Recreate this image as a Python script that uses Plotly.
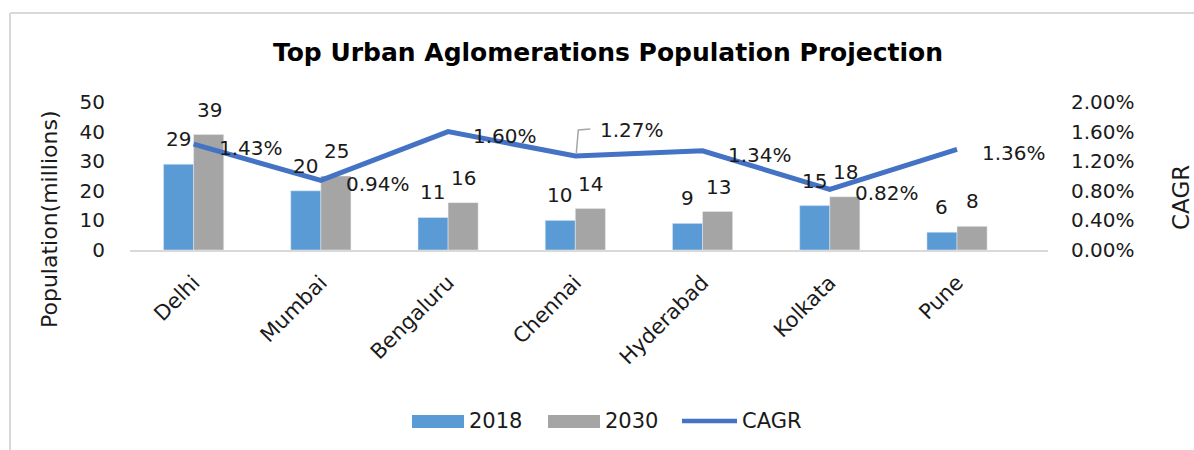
import plotly.graph_objects as go

cities = ["Delhi", "Mumbai", "Bengaluru", "Chennai", "Hyderabad", "Kolkata", "Pune"]
pop_2018 = [29, 20, 11, 10, 9, 15, 6]
pop_2030 = [39, 25, 16, 14, 13, 18, 8]
cagr = [0.0143, 0.0094, 0.0160, 0.0127, 0.0134, 0.0082, 0.0136]
left_ticks = [0, 10, 20, 30, 40, 50]
right_ticks = [0, 0.004, 0.008, 0.012, 0.016, 0.02]

W, H = 1194, 450
ML, MR, MT, MB = 130, 146, 102, 200
PW, PH = W - ML - MR, H - MT - MB

FONT = "DejaVu Sans"
TXT = "#1a1a1a"
BLUE, GRAY, LINE = "#5B9BD5", "#A5A5A5", "#4472C4"


def px(xp):
    return (xp - ML) / PW


def py(yp):
    return (H - MB - yp) / PH


fig = go.Figure()
fig.add_trace(go.Bar(x=cities, y=pop_2018, name="2018", marker_color=BLUE))
fig.add_trace(go.Bar(x=cities, y=pop_2030, name="2030", marker_color=GRAY))
fig.add_trace(go.Scatter(x=cities, y=cagr, name="CAGR", yaxis="y2", mode="lines",
                         line=dict(color=LINE, width=5), cliponaxis=False))

ann = []
# bar labels
for c, a, b in zip(cities, pop_2018, pop_2030):
    for v, sh in ((a, -15.5), (b, 15.5)):
        ann.append(dict(x=c, y=v, xref="x", yref="y", text=str(v), showarrow=False,
                        xshift=sh, yshift=11, yanchor="bottom", xanchor="center",
                        font=dict(family=FONT, size=20, color=TXT)))
# line labels
for c, v in zip(cities, cagr):
    ys = -4
    if c == "Chennai":
        ys = 26
    ann.append(dict(x=c, y=v, xref="x", yref="y2", text=f"{v*100:.2f}%", showarrow=False,
                    xshift=23, yshift=ys, xanchor="left", yanchor="middle",
                    font=dict(family=FONT, size=20, color=TXT)))
# axis titles
ann.append(dict(x=px(49), y=py(219), xref="paper", yref="paper", text="Population(millions)",
                textangle=-90, showarrow=False, xanchor="center", yanchor="middle",
                font=dict(family=FONT, size=22, color=TXT)))
ann.append(dict(x=px(1181), y=py(198), xref="paper", yref="paper", text="CAGR",
                textangle=-90, showarrow=False, xanchor="center", yanchor="middle",
                font=dict(family=FONT, size=23, color=TXT)))

shapes = []
# leader line for Chennai label
shapes.append(dict(type="path", xref="x", yref="y2", xsizemode="pixel", ysizemode="pixel",
                   xanchor="Chennai", yanchor=cagr[3], path="M 1 3 L 3 26 L 15 27",
                   line=dict(color="#A6A6A6", width=1.5)))
# chart frame (left and top edges)
shapes.append(dict(type="line", xref="paper", yref="paper", x0=px(10), x1=px(10), y0=py(13), y1=py(452),
                   line=dict(color="#D9D9D9", width=2)))
shapes.append(dict(type="line", xref="paper", yref="paper", x0=px(10), x1=px(1196), y0=py(13), y1=py(13),
                   line=dict(color="#D9D9D9", width=2)))

# custom legend
legend_items = [("2018", "bar", BLUE, 412), ("2030", "bar", GRAY, 548), ("CAGR", "line", LINE, 682)]
for name, kind, col, x0 in legend_items:
    if kind == "bar":
        shapes.append(dict(type="rect", xref="paper", yref="paper", x0=px(x0), x1=px(x0 + 52),
                           y0=py(428), y1=py(415), fillcolor=col, line=dict(width=0)))
    else:
        shapes.append(dict(type="line", xref="paper", yref="paper", x0=px(x0), x1=px(x0 + 55),
                           y0=py(421), y1=py(421), line=dict(color=col, width=4.5)))
    tx = x0 + 55 if kind == "bar" else x0 + 58
    ann.append(dict(x=px(tx), y=py(421), xref="paper", yref="paper", text=name, showarrow=False,
                    xanchor="left", yanchor="middle", font=dict(family=FONT, size=21, color=TXT)))

fig.update_layout(
    width=W, height=H,
    margin=dict(l=ML, r=MR, t=MT, b=MB),
    paper_bgcolor="white", plot_bgcolor="white",
    showlegend=False,
    barmode="group", bargap=0.527, bargroupgap=0,
    title=dict(text="<b>Top Urban Aglomerations Population Projection</b>", x=608 / W, xanchor="center",
               y=1 - 52 / H, yanchor="middle", font=dict(family=FONT, size=25, color="black")),
    font=dict(family=FONT, size=20, color=TXT),
    xaxis=dict(type="category", showline=True, linecolor="#D9D9D9", linewidth=2, showgrid=False,
               tickangle=-45, ticks="outside", ticklen=10, tickcolor="rgba(0,0,0,0)",
               tickfont=dict(family=FONT, size=21, color=TXT)),
    yaxis=dict(range=[0, 50], tickvals=left_ticks, showgrid=False, zeroline=False, showline=False,
               ticks="outside", ticklen=20, tickcolor="rgba(0,0,0,0)",
               tickfont=dict(family=FONT, size=20, color=TXT)),
    yaxis2=dict(range=[0, 0.02], tickvals=right_ticks, tickformat=".2%", overlaying="y", side="right",
                showgrid=False, zeroline=False, showline=False,
                ticks="outside", ticklen=18, tickcolor="rgba(0,0,0,0)",
                tickfont=dict(family=FONT, size=20, color=TXT)),
    annotations=ann,
    shapes=shapes,
)

fig.write_html("out.html", config={"displayModeBar": False},
               post_script="document.body.style.margin='0';document.body.style.overflow='hidden';")
